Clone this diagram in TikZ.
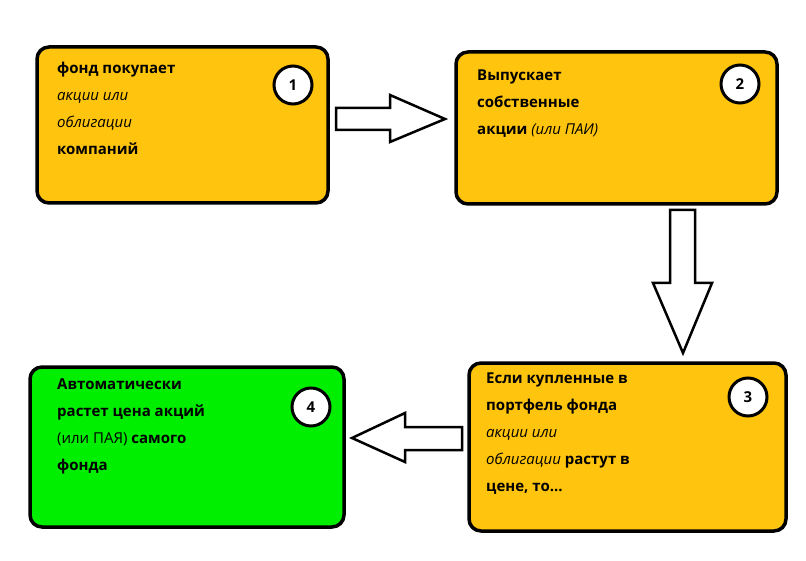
\documentclass[tikz,border=0pt]{standalone}
\usepackage{fontspec}
\setmainfont{Open Sans}
\begin{document}
\begin{tikzpicture}[x=1pt,y=-1pt,
 box/.style={draw=black,line width=3.5pt,rounded corners=12pt},
 num/.style={circle,draw=black,line width=3pt,fill=white,minimum size=38pt,inner sep=0pt,font=\bfseries\fontsize{15}{18}\selectfont},
 txt/.style={anchor=north west,align=left,inner sep=0pt,font=\fontsize{15}{27}\selectfont},
 barrow/.style={draw=black,line width=2.5pt,fill=white,line join=miter}]
\useasboundingbox (0,0) rectangle (806,561);
\definecolor{orng}{RGB}{255,196,14}
\definecolor{grn}{RGB}{0,238,0}
\draw[box,fill=orng] (37,47) rectangle (328,203) node[midway,inner sep=0pt] (b1) {};
\draw[box,fill=orng] (456,52) rectangle (777,204) node[midway,inner sep=0pt] (b2) {};
\draw[box,fill=orng] (469,363) rectangle (786,531) node[midway,inner sep=0pt] (b3) {};
\draw[box,fill=grn] (30,367) rectangle (344,527) node[midway,inner sep=0pt] (b4) {};
\node[num] (n1) at (293,85) {1};
\node[num] (n2) at (740,84) {2};
\node[num] (n3) at (748,397) {3};
\node[num] (n4) at (311,407) {4};
\node[txt] (t1) at (57,62) {\textbf{фонд покупает}\\\textit{акции или}\\\textit{облигации}\\\textbf{компаний}};
\node[txt] (t2) at (477,70) {\textbf{Выпускает}\\\textbf{собственные}\\\textbf{акции} \textit{(или ПАИ)}};
\node[txt] (t3) at (486,373) {\textbf{Если купленные в}\\\textbf{портфель фонда}\\\textit{акции или}\\\textit{облигации} \textbf{растут в}\\\textbf{цене, то...}};
\node[txt] (t4) at (57,379) {\textbf{Автоматически}\\\textbf{растет цена акций}\\(или ПАЯ) \textbf{самого}\\\textbf{фонда}};
\draw[barrow] (336,108) -- (390,108) -- (390,95) -- (445,119) -- (390,142) -- (390,130) -- (336,130) -- cycle;
\draw[barrow] (670,210) -- (695,210) -- (695,283) -- (712,283) -- (683,353) -- (653,283) -- (670,283) -- cycle;
\draw[barrow] (462,427) -- (405,427) -- (405,413) -- (352,438) -- (405,462) -- (405,450) -- (462,450) -- cycle;
\end{tikzpicture}
\end{document}
